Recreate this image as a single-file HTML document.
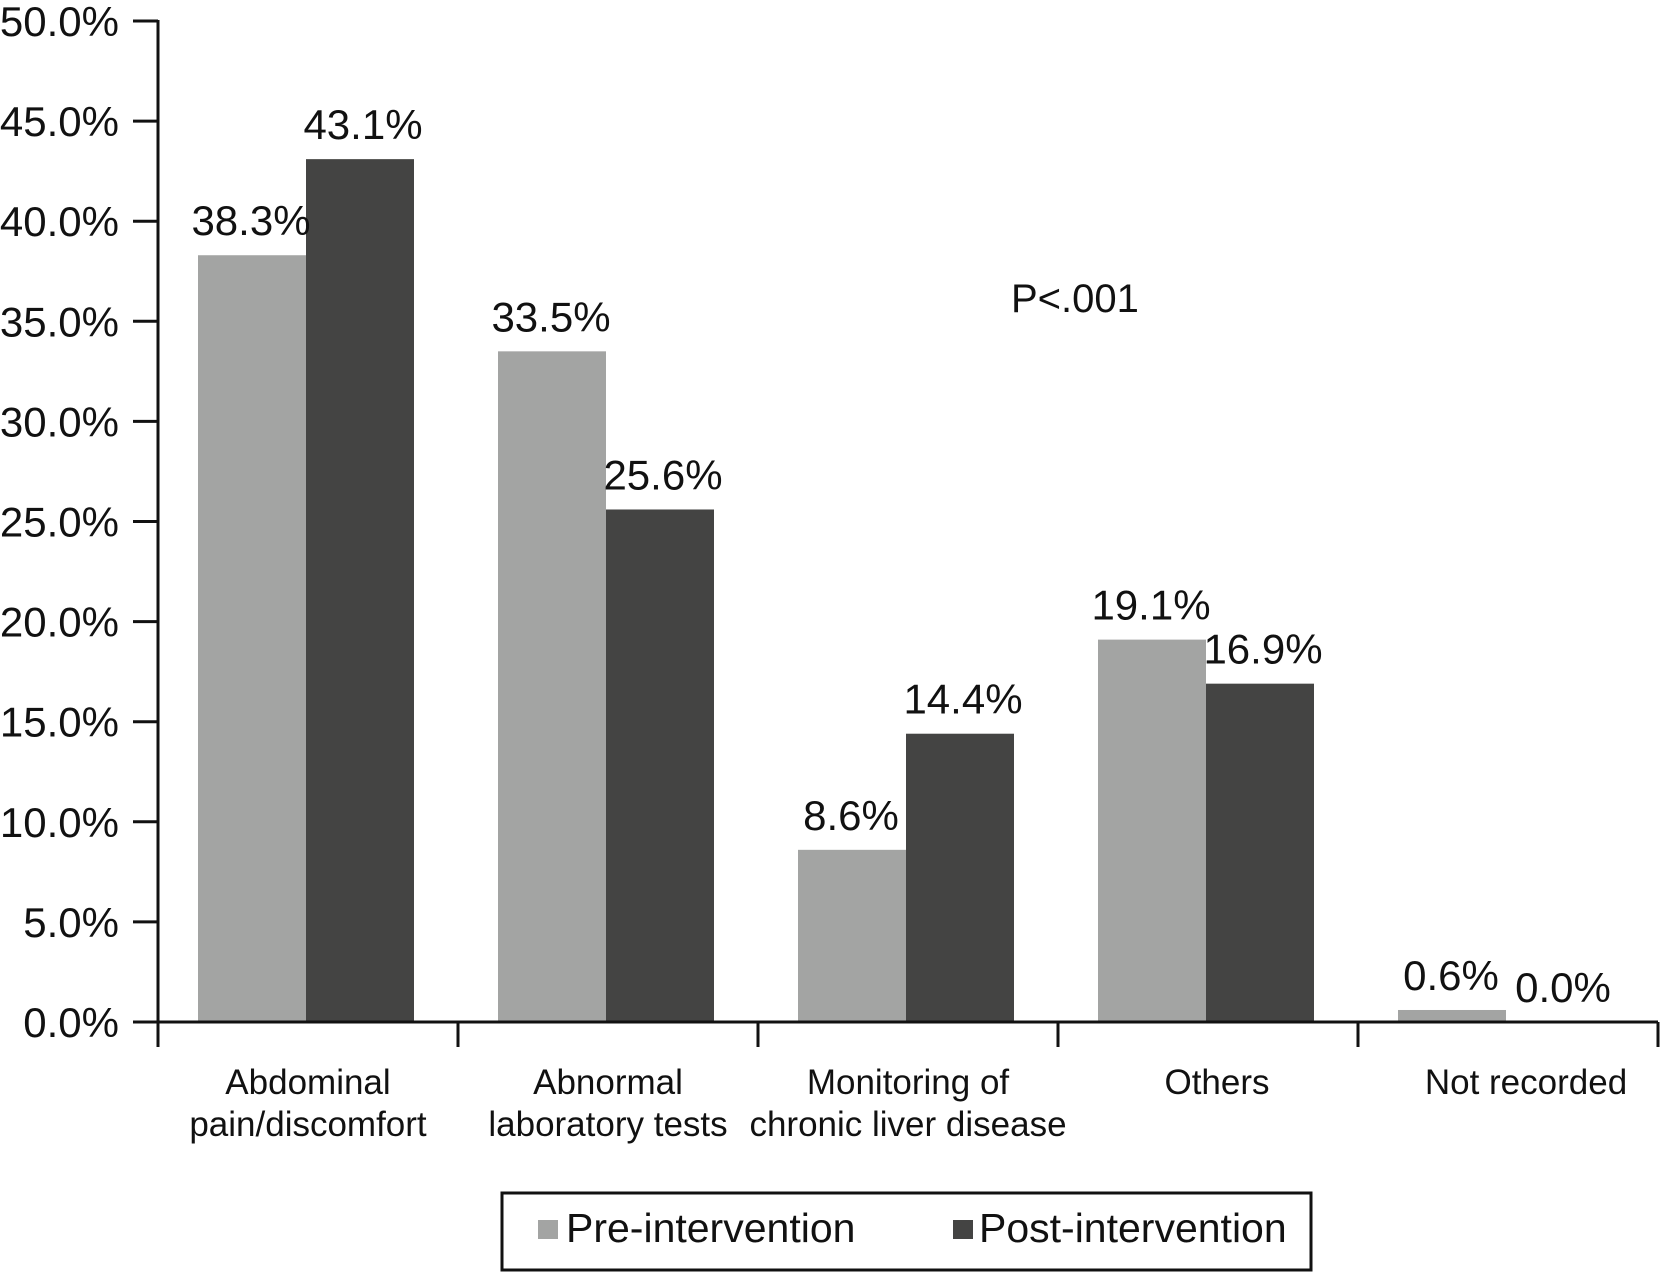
<!DOCTYPE html>
<html><head><meta charset="utf-8"><style>
html,body{margin:0;padding:0;background:#fff}
svg text{font-family:"Liberation Sans",Arial,sans-serif;fill:#111}
</style></head><body>
<svg width="1660" height="1273" viewBox="0 0 1660 1273">
<g id="chart"></g>
</svg>
<script>
const categories = [["Abdominal","pain/discomfort"],["Abnormal","laboratory tests"],["Monitoring of","chronic liver disease"],["Others"],["Not recorded"]];
const preValues = [38.3, 33.5, 8.6, 19.1, 0.6];
const postValues = [43.1, 25.6, 14.4, 16.9, 0.0];
const yTicks = [0,5,10,15,20,25,30,35,40,45,50];

const NS="http://www.w3.org/2000/svg";
const g=document.getElementById('chart');
const x0=158, groupW=300, barOff=40, barW=108;
const yBase=1022, yTop=21, yMax=50;
const y=v=>yBase-(v/yMax)*(yBase-yTop);
const gx=i=>x0+i*groupW;
const labelShift=i=>(i>=3?(i-2)*9:0);
function el(tag,attrs,txt){const e=document.createElementNS(NS,tag);for(const k in attrs)e.setAttribute(k,attrs[k]);if(txt!==undefined)e.textContent=txt;g.appendChild(e);return e;}

categories.forEach((c,i)=>{
  const pv=preValues[i], qv=postValues[i];
  const b1=el('rect',{x:gx(i)+barOff,y:y(pv),width:barW,height:yBase-y(pv),fill:'#a3a4a3'});
  
  
  const b2=el('rect',{x:gx(i)+barOff+barW,y:y(qv),width:barW,height:yBase-y(qv),fill:'#444443'});
  
  
  const t1=el('text',{x:gx(i)+barOff+barW/2-1,y:y(pv)-20,'font-size':42,'text-anchor':'middle'},pv.toFixed(1)+'%');
  
  
  const t2=el('text',{x:gx(i)+barOff+barW*1.5+3,y:y(qv)-20,'font-size':42,'text-anchor':'middle'},qv.toFixed(1)+'%');
  
  
  c.forEach((line,j)=>{
    const t=el('text',{x:gx(i)+groupW/2+labelShift(i),y:1094+j*42,'font-size':35,'text-anchor':'middle'},line);
    
    
  });
});

const ya=el('line',{x1:x0,y1:y(50)-1,x2:x0,y2:yBase+1,stroke:'#111','stroke-width':3});


yTicks.forEach(v=>{
  const tk=el('line',{x1:133,y1:y(v),x2:x0,y2:y(v),stroke:'#111','stroke-width':3});
  
  
  const t=el('text',{x:119,y:y(v)+15,'font-size':42,'text-anchor':'end'},v.toFixed(1)+'%');
  
  
});
const xa=el('line',{x1:x0,y1:yBase,x2:gx(categories.length),y2:yBase,stroke:'#111','stroke-width':3});


for(let i=0;i<=categories.length;i++){
  const tk=el('line',{x1:gx(i),y1:yBase,x2:gx(i),y2:1047,stroke:'#111','stroke-width':3});
  
  
}
const p=el('text',{x:1011,y:312,'font-size':40},'P<.001');


const lb=el('rect',{x:502,y:1193,width:809,height:77,fill:'none',stroke:'#111','stroke-width':3});


const s1=el('rect',{x:538,y:1220,width:20,height:19,fill:'#a3a4a3'});


const l1=el('text',{x:566,y:1242,'font-size':41},'Pre-intervention');


const s2=el('rect',{x:953,y:1220,width:20,height:19,fill:'#444443'});


const l2=el('text',{x:979,y:1242,'font-size':41},'Post-intervention');


</script>
</body></html>
